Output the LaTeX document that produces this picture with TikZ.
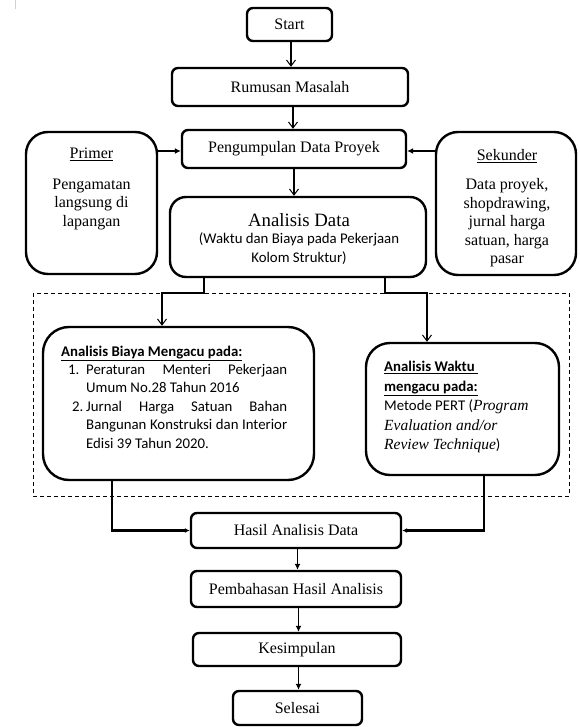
\documentclass[tikz,border=0pt]{standalone}
\usepackage{fontspec}
\setmainfont{Liberation Serif}
\newfontfamily\calib{Carlito}
\usetikzlibrary{arrows.meta,calc}
\tikzset{
  box/.style={draw, line width=2.4pt, rounded corners=6pt, inner sep=0pt},
  bigbox/.style={draw, line width=2.4pt, rounded corners=22pt, inner sep=0pt},
  txt/.style={inner sep=0pt, align=center, font=\fontsize{16}{18.5}\selectfont},
  va/.style={line width=1.3pt, -{Straight Barb[length=6pt,width=9pt,line width=1pt]}},
  fa/.style={line width=1.3pt, -{Latex[length=6pt,width=6pt]}},
  ta/.style={line width=2.4pt, -{Latex[length=5pt,width=5pt]}},
}
\begin{document}
\begin{tikzpicture}[x=1pt,y=-1pt]
\useasboundingbox (0,0) rectangle (579,727);
\draw[gray!35, line width=1pt] (15,0) -- (15,9);
% dashed frame
\draw[line width=1pt, dash pattern=on 4pt off 3pt] (33,293) rectangle (569,496);
% boxes
\node[box, minimum width=85, minimum height=33] (start) at (289.5,24.5) {};
\node[txt] (tstart) at (start) {Start};
\node[box, minimum width=236, minimum height=38] (rum) at (290,87) {};
\node[txt] (trum) at (rum) {Rumusan Masalah};
\node[box, minimum width=224, minimum height=38] (peng) at (294,149) {};
\node[txt] (tpeng) at (peng) {Pengumpulan Data Proyek};
\node[bigbox, minimum width=131, minimum height=142] (prim) at (91.5,203) {};
\node[txt, anchor=north] (tprim) at (91.5,148) {\underline{Primer}\\[12pt]Pengamatan\\langsung di\\lapangan};
\node[bigbox, minimum width=140, minimum height=143] (sek) at (506,203.5) {};
\node[txt, anchor=north] (tsek) at (507,149) {\underline{Sekunder}\\[11pt]Data proyek,\\shopdrawing,\\jurnal harga\\satuan, harga\\pasar};
\node[bigbox, rounded corners=16pt, minimum width=256, minimum height=80] (ad) at (298,237) {};
\node[inner sep=0pt, align=center, font=\calib\fontsize{14.8}{18.5}\selectfont] (tad) at (299,239) {{\rmfamily\fontsize{18.8}{20}\selectfont Analisis Data}\\[-1pt]
  (Waktu dan Biaya pada Pekerjaan\\Kolom Struktur)};
\node[bigbox, rounded corners=26pt, minimum width=271, minimum height=153] (bia) at (178.5,403.5) {};
\node[inner sep=0pt, anchor=north west, align=left, font=\calib\fontsize{14.8}{18.4}\selectfont] (tbia) at (61,345.5) {%
  \underline{\textbf{Analisis Biaya Mengacu pada:}}\\
  \hspace*{7pt}\makebox[18pt][l]{1.}\makebox[201pt][s]{Peraturan Menteri Pekerjaan}\\
  \hspace*{25pt}Umum No.28 Tahun 2016\\
  \hspace*{11pt}\makebox[14pt][l]{2.}\makebox[201pt][s]{Jurnal Harga Satuan Bahan}\\
  \hspace*{25pt}\makebox[201pt][s]{Bangunan Konstruksi dan Interior}\\
  \hspace*{25pt}Edisi 39 Tahun 2020.};
\node[bigbox, rounded corners=24pt, minimum width=193, minimum height=132] (wak) at (462.5,409) {};
\node[inner sep=0pt, anchor=north west, align=left, font=\calib\fontsize{14.8}{19.5}\selectfont] (twak) at (384,361) {%
  \underline{\textbf{Analisis Waktu}\ }\\
  \underline{\textbf{mengacu pada:}}\\
  Metode PERT ({\rmfamily\itshape\fontsize{15.5}{19.5}\selectfont Program}\\
  {\rmfamily\itshape\fontsize{15.5}{19.5}\selectfont Evaluation and/or}\\
  {\rmfamily\itshape\fontsize{15.5}{19.5}\selectfont Review Technique})};
\node[box, minimum width=210, minimum height=35] (has) at (296,530.5) {};
\node[txt] (thas) at (has) {Hasil Analisis Data};
\node[box, minimum width=210, minimum height=36] (pem) at (296,589) {};
\node[txt] (tpem) at (pem) {Pembahasan Hasil Analisis};
\node[box, minimum width=208, minimum height=33] (kes) at (297,649.5) {};
\node[txt] (tkes) at (kes) {Kesimpulan};
\node[box, minimum width=129, minimum height=34] (sel) at (297.5,708) {};
\node[txt] (tsel) at (sel) {Selesai};
% connectors
\coordinate (s1) at (291,0);
\draw[va] (s1 |- start.south) -- (s1 |- rum.north);
\coordinate (s2) at (293,0);
\draw[va] (s2 |- rum.south) -- (s2 |- peng.north);
\coordinate (s3) at (294,0);
\draw[va] (s3 |- peng.south) -- (s3 |- ad.north);
\coordinate (p1) at (0,151);
\draw[fa] (p1 -| prim.east) -- (p1 -| peng.west);
\draw[fa] (p1 -| sek.west) -- (p1 -| peng.east);
\coordinate (a1) at (204,0);
\coordinate (a2) at (162,293);
\draw[va] (a1 |- ad.south) |- (a2) -- (a2 |- bia.north);
\coordinate (a3) at (385,0);
\coordinate (a4) at (427,293);
\draw[va] (a3 |- ad.south) |- (a4) -- (a4 |- wak.north);
\coordinate (b1) at (112,0);
\draw[ta] (b1 |- bia.south) |- (has.west);
\coordinate (b2) at (484,0);
\draw[ta] (b2 |- wak.south) |- (has.east);
\coordinate (c1) at (297.5,0);
\draw[fa] (c1 |- has.south) -- (c1 |- pem.north);
\coordinate (c2) at (298.5,0);
\draw[fa] (c2 |- pem.south) -- (c2 |- kes.north);
\draw[fa] (c2 |- kes.south) -- (c2 |- sel.north);
\end{tikzpicture}
\end{document}
